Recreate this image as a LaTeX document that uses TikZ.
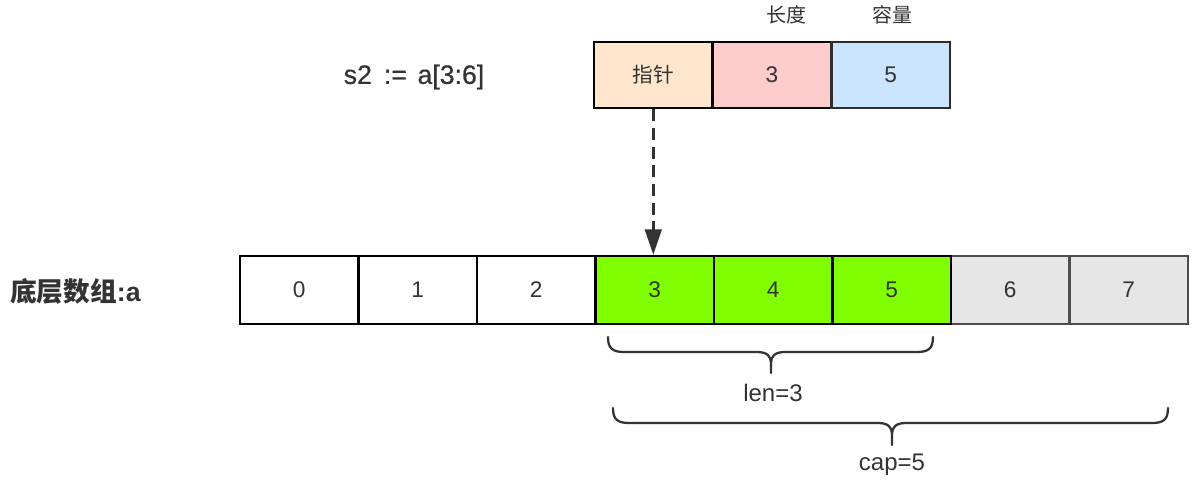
\documentclass[tikz,border=0pt]{standalone}
\usepackage{fontspec}
\setmainfont{Liberation Sans}
\newfontfamily\medfont{Liberation Sans}[FakeBold=0.6]
\newfontfamily\cjk{Noto Sans CJK SC}
\usetikzlibrary{arrows.meta}
\definecolor{txt}{HTML}{333333}
\definecolor{ptrfill}{HTML}{FFE6CC}
\definecolor{lenfill}{HTML}{FFCCCC}
\definecolor{capfill}{HTML}{CCE5FF}
\definecolor{grn}{HTML}{80FF00}
\definecolor{gry}{HTML}{E6E6E6}
\definecolor{gryline}{HTML}{4D4D4D}
\definecolor{brc}{HTML}{333333}
\tikzset{
  cell/.style={draw=black, line width=1.9pt, minimum width=88.9pt, minimum height=51pt, inner sep=0pt, text=txt, font=\fontsize{17}{20}\selectfont},
  topcell/.style={cell, minimum width=89pt, minimum height=49.5pt},
  graycell/.style={cell, draw=gryline, fill=gry},
  brace/.style={draw=brc, line width=1.7pt, line cap=round, line join=round},
  lbl/.style={text=txt, inner sep=0pt, font=\fontsize{18}{20}\selectfont},
}
\begin{document}
\begin{tikzpicture}[x=0.75pt,y=-0.75pt]
\useasboundingbox (0,0) rectangle (1200,479);
% top struct
\node[topcell, fill=ptrfill] (p) at (653.3,75) {\cjk\fontsize{15.5}{18}\selectfont 指针};
\node[topcell, fill=lenfill] (l) at (772,75) {3};
\node[topcell, fill=capfill, draw=gryline!60!black] (c) at (890.7,75) {5};
\node[lbl, font=\cjk\fontsize{15}{18}\selectfont] (lt) at (786,15) {长度};
\node[lbl, font=\cjk\fontsize{15}{18}\selectfont] (ct) at (892,15) {容量};
\node[lbl, font=\medfont\fontsize{20}{22}\selectfont] (s2) at (414,77) {s2\hspace{0.45em}:=\hspace{0.4em}a[3:6]};
% bottom array
\node[lbl, font=\bfseries\fontsize{20}{22}\selectfont, anchor=west] (arr) at (10,291) {{\cjk\bfseries 底层数组}:a};
\node[cell, fill=white] (a0) at (299.25,290) {0};
\node[cell, fill=white] (a1) at (417.75,290) {1};
\node[cell, fill=white] (a2) at (536.25,290) {2};
\node[graycell] (a6) at (1010.25,290) {6};
\node[graycell] (a7) at (1128.75,290) {7};
\node[cell, fill=grn] (a3) at (654.75,290) {3};
\node[cell, fill=grn] (a4) at (773.25,290) {4};
\node[cell, fill=grn] (a5) at (891.75,290) {5};
% pointer arrow
\draw[draw=brc, line width=1.9pt, dash pattern=on 9pt off 5pt, -{Triangle[width=12.5pt,length=19pt]}] (p.south) -- (p.south |- a3.north);
% len brace
\draw[brace] (608,337) .. controls (608,348) and (612,352) .. (624,352) -- (757,352)
  .. controls (767,352) and (771,356) .. (771,363) -- (771,373) -- (771,363)
  .. controls (771,356) and (775,352) .. (785,352) -- (917,352)
  .. controls (929,352) and (933,348) .. (933,337);
\node[lbl] (lenl) at (773,393) {len=3};
% cap brace
\draw[brace] (613,408) .. controls (613,419) and (617,423) .. (629,423) -- (878,423)
  .. controls (888,423) and (892,427) .. (892,434) -- (892,445) -- (892,434)
  .. controls (892,427) and (896,423) .. (906,423) -- (1152,423)
  .. controls (1164,423) and (1168,419) .. (1168,408);
\node[lbl] (capl) at (892,465) {cap=5};
\end{tikzpicture}
\end{document}
